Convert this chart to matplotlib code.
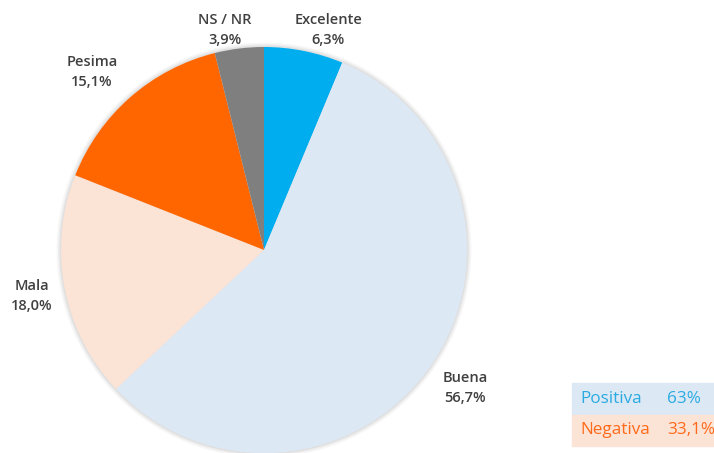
import numpy as np
import matplotlib
matplotlib.use("Agg")
import matplotlib.pyplot as plt
from matplotlib.patches import Rectangle, Circle

# Data (clockwise from 12 o'clock)
categories = ["Excelente", "Buena", "Mala", "Pesima", "NS / NR"]
values = [6.3, 56.7, 18.0, 15.1, 3.9]
colors = ["#00AEEF", "#DDE8F5", "#FBE3D6", "#FF6600", "#7F7F7F"]
label_dist = [1.13, 1.20, 1.165, 1.22, 1.10]
label_shift = [-4.9, 0.3, 0.5, 2.8, 3.1]  # degrees

summary_labels = ["Positiva", "Negativa"]
summary_values = ["63%", "33,1%"]
summary_bg = ["#DDE8F5", "#FBE3D6"]
summary_fg = ["#29ABE2", "#FF6A1A"]

fig = plt.figure(figsize=(7.14, 4.53), dpi=100)
ax = fig.add_axes([0, 0, 1, 1])

R = 203
# soft shadow ring
for i, a in enumerate([0.05, 0.04, 0.03]):
    ax.add_patch(Circle((0, 0), R + 1.5 + i * 1.5, color="#000000", alpha=a, lw=0, zorder=0))

wedges, _ = ax.pie(values, colors=colors, startangle=90, counterclock=False,
                   radius=R, center=(0, 0), frame=True,
                   wedgeprops=dict(linewidth=0))
ax.set_xlim(-264, 714 - 264)
ax.set_ylim(-(453 - 250), 250)
ax.set_aspect("equal")
ax.axis("off")

for w, cat, val, d, s in zip(wedges, categories, values, label_dist, label_shift):
    ang = np.deg2rad((w.theta1 + w.theta2) / 2 + s)
    x, y = R * d * np.cos(ang), R * d * np.sin(ang)
    txt = f"{cat}\n{val:.1f}%".replace(".", ",")
    ax.text(x, y, txt, ha="center", va="center", fontsize=10.5,
            fontfamily="Open Sans", fontweight="semibold", color="#404040",
            linespacing=1.55)

# summary box, bottom right
row_h = 31.5 / 453
x0 = 572 / 714
for i, (lab, val, bg, fg) in enumerate(zip(summary_labels, summary_values, summary_bg, summary_fg)):
    ytop = 1 - (383 / 453) - i * row_h
    fig.patches.append(Rectangle((x0, ytop - row_h), 1 - x0, row_h,
                                 transform=fig.transFigure, color=bg, zorder=0))
    fig.text(580 / 714, ytop - row_h / 2, lab, ha="left", va="center",
             fontsize=12.3, fontfamily="Open Sans", color=fg)
    fig.text(667 / 714, ytop - row_h / 2, val, ha="left", va="center",
             fontsize=12.3, fontfamily="Open Sans", color=fg)

fig.savefig("out.png", dpi=100)
